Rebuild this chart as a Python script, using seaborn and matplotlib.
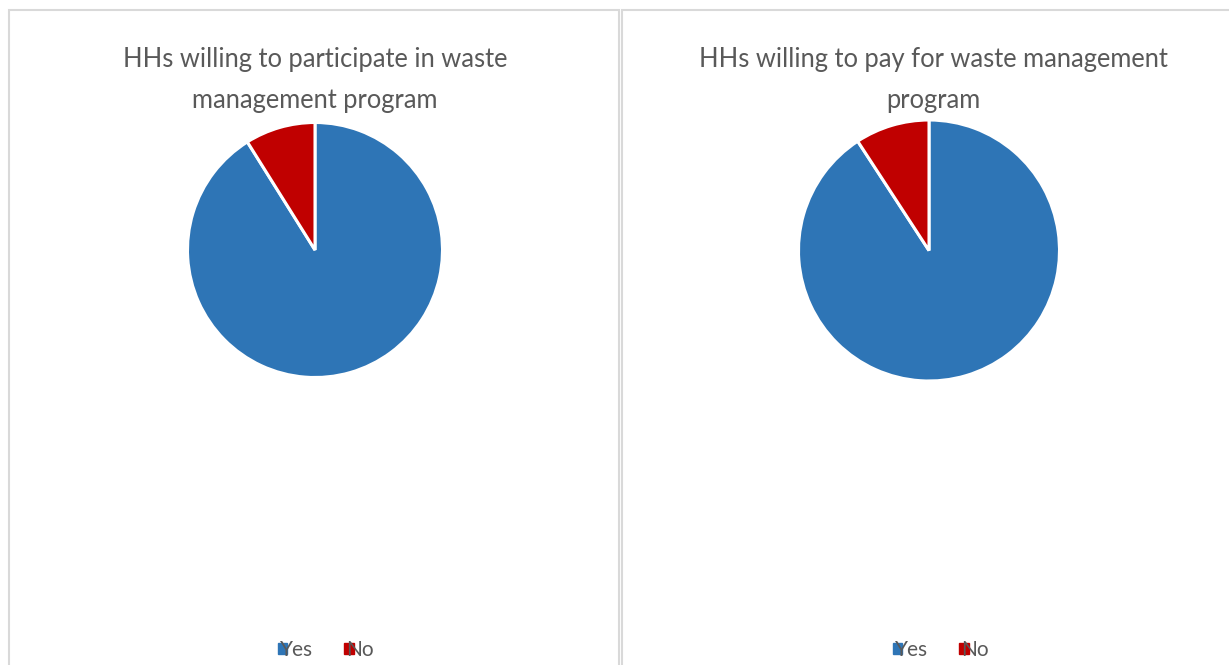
import matplotlib
matplotlib.use("Agg")
import matplotlib.pyplot as plt
import seaborn as sns
from matplotlib.patches import Rectangle, Patch

sns.set_theme(style="white")
plt.rcParams['font.family'] = ['Lato', 'DejaVu Sans']

categories = ["Yes", "No"]
participate_values = [91.1, 8.9]
pay_values = [90.8, 9.2]
titles = ["HHs willing to participate in waste\nmanagement program",
          "HHs willing to pay for waste management\nprogram"]
colors = ["#2E75B6", "#C00000"]
text_color = "#595959"

W, H = 1229, 665
fig = plt.figure(figsize=(W / 100, H / 100), dpi=100)

def fx(px):
    return px / W

def fy(py):
    return 1 - py / H

# panel borders
for x0, x1 in [(9, 619), (622, 1232)]:
    fig.patches.append(Rectangle((fx(x0), fy(675)), fx(x1) - fx(x0), fy(10) - fy(675),
                                 transform=fig.transFigure, fill=False,
                                 edgecolor="#D9D9D9", linewidth=1.5))

panels = [
    (participate_values, titles[0], 315, 250, 127.5, 315, 326),
    (pay_values, titles[1], 929, 250.5, 130.5, 933, 941),
]

for values, title, cx, cy, r, tx, lx in panels:
    ax = fig.add_axes([fx(cx - r), fy(cy + r), (2 * r) / W, (2 * r) / H])
    ax.pie(values, colors=colors, startangle=90, counterclock=False, radius=1,
           wedgeprops=dict(edgecolor="white", linewidth=2.2))
    ax.set_xlim(-1, 1)
    ax.set_ylim(-1, 1)
    ax.set_aspect("equal")
    ax.axis("off")
    fig.text(fx(tx), fy(80), title, ha="center", va="center", fontsize=18.4,
             color=text_color, linespacing=1.8)
    handles = [Patch(facecolor=c, edgecolor=c) for c in colors]
    fig.legend(handles, categories, loc="center", bbox_to_anchor=(fx(lx), fy(650)),
               ncol=2, frameon=False, fontsize=15, handlelength=0.45, handleheight=0.45,
               handletextpad=-0.35, columnspacing=1.5, labelcolor=text_color)

fig.savefig("out.png", dpi=100, facecolor="white")
